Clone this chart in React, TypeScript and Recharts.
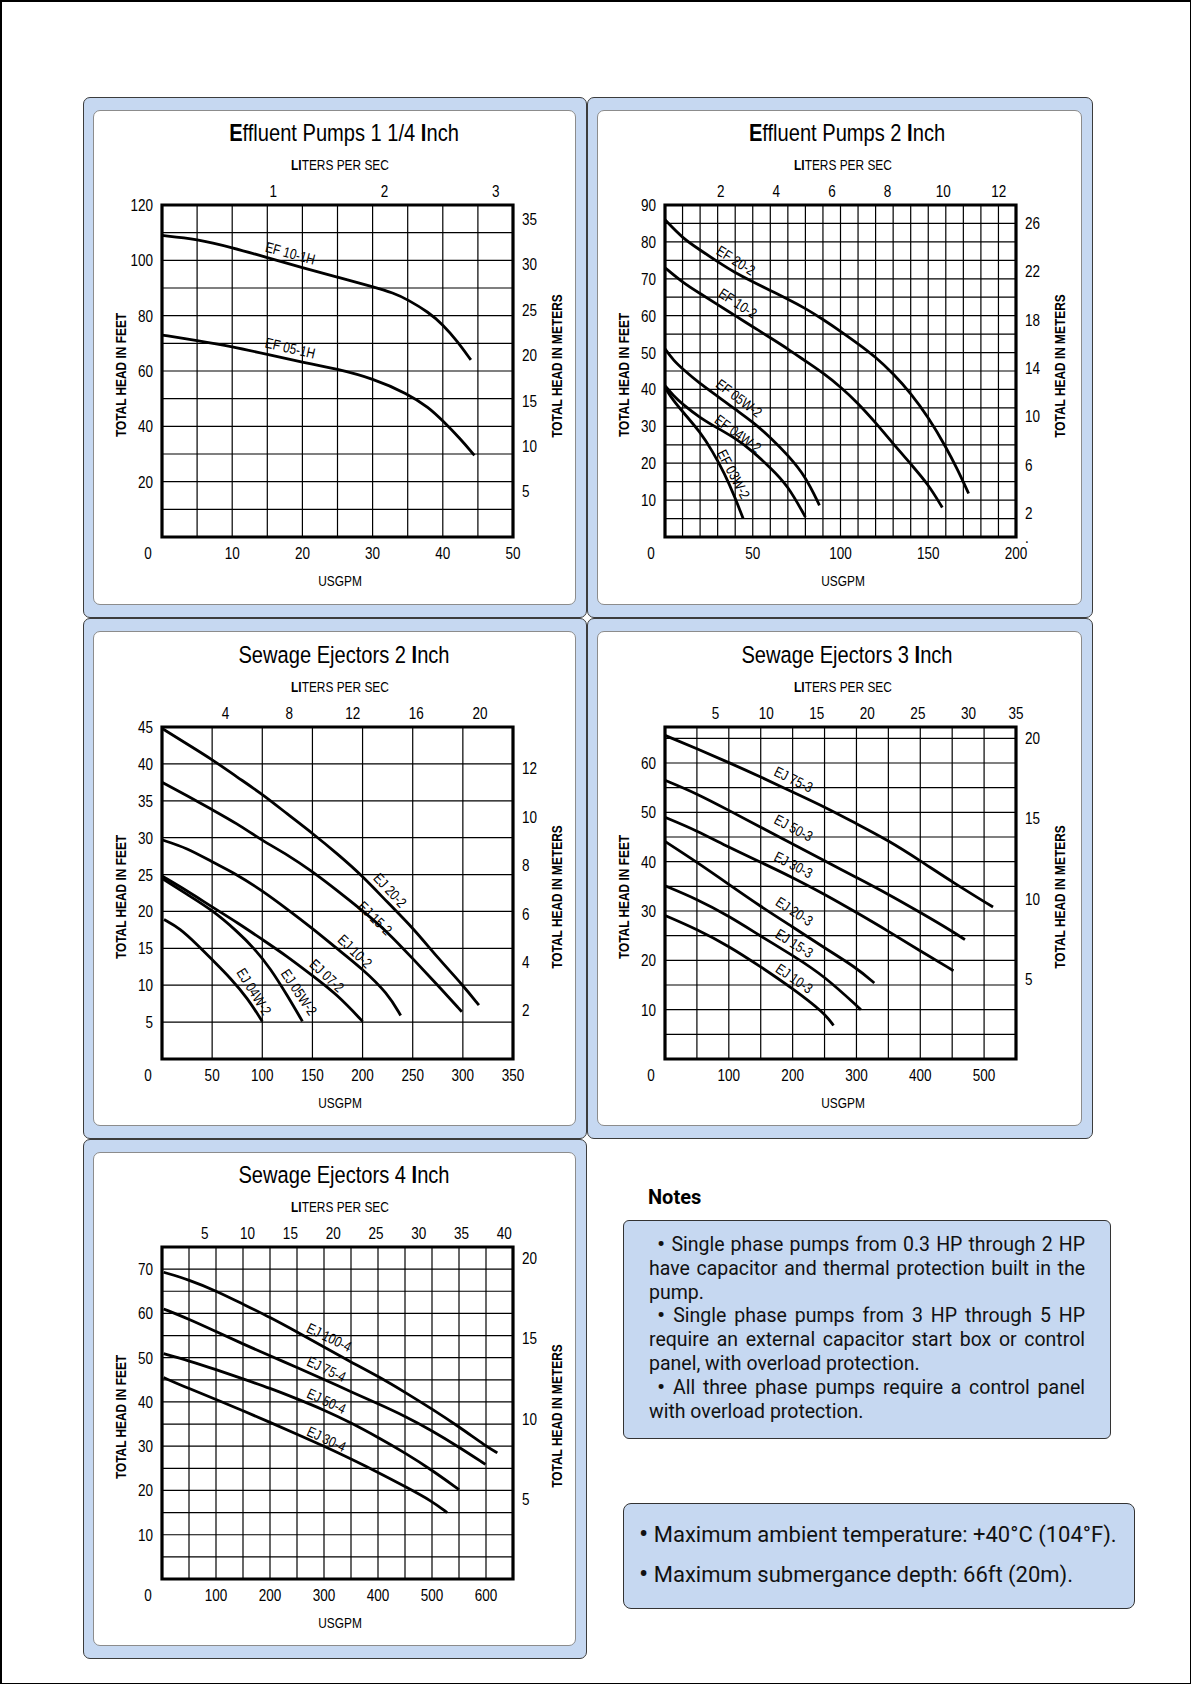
import React from 'react';
import { ComposedChart, Line, XAxis, YAxis, ReferenceLine, ReferenceArea, Scatter } from 'recharts';

const GPM_PER_LPS = 15.85;
type Pt = [number, number];
type Lb = [string, number, number, number];

// ---------- Effluent Pumps 1 1/4 Inch ----------
const EF_10_1H: Pt[] = [[0,109],[5,107.7],[10,104.6],[15,101],[20,97.3],[25,93.9],[30,90.5],[33,88.2],[35,85.8],[38,81.2],[40,76.8],[42,71],[44,64]];
const EF_05_1H: Pt[] = [[0,73],[5,71],[10,68.8],[15,66],[20,63.2],[25,60.7],[30,57.3],[35,51.8],[38,46.8],[40,42],[42.5,35.5],[44.5,29.5]];
const P1_LABELS: Lb[] = [['EF 10-1H',18.2,101.9,15],['EF 05-1H',18.2,67.6,13]];
const P1_BOTTOM = [0,10,20,30,40,50];
const P1_LEFT = [20,40,60,80,100,120];
const P1_RIGHT = [5,10,15,20,25,30,35];
const P1_TOP = [1,2,3];

// ---------- Effluent Pumps 2 Inch ----------
const EF_20_2: Pt[] = [[0,86],[10,81],[20,77.8],[30,74.6],[40,71.6],[50,69.2],[60,66.8],[70,64.5],[80,62],[90,59],[100,55.8],[110,52.4],[120,48.8],[130,44.3],[140,39],[150,32.5],[160,24.5],[167,18],[173,11.8]];
const EF_10_2: Pt[] = [[0,73],[10,69],[20,66],[30,63],[40,60],[50,57],[60,54],[70,51],[80,47.7],[90,44.5],[100,40.7],[110,36.3],[120,31],[130,25.3],[140,19.8],[150,14.3],[158,8]];
const EF_05W_2: Pt[] = [[0,51],[5,47.8],[10,45.6],[20,41.5],[30,38.2],[40,34.6],[50,31.2],[60,27],[70,22.2],[80,16.5],[88,8.6]];
const EF_04W_2: Pt[] = [[0,41],[5,38.2],[10,36],[20,32.3],[30,29.5],[40,26.8],[50,23.2],[60,18.8],[70,14],[80,5.4]];
const EF_03W_2: Pt[] = [[0,40.5],[5,36.8],[10,34],[20,28.5],[27,23.3],[34,17.2],[40,10.6],[44.5,5]];
const P2_LABELS: Lb[] = [['EF 20-2',39.8,74.5,32],['EF 10-2',40.9,62.9,33],['EF 05W-2',41.5,37.2,37],['EF 04W-2',40.9,27.6,36],['EF 03W-2',38.1,16.8,62]];
const P2_BOTTOM = [0,50,100,150,200];
const P2_LEFT = [10,20,30,40,50,60,70,80,90];
const P2_RIGHT = [0,2,6,10,14,18,22,26];
const P2_TOP = [2,4,6,8,10,12];

// ---------- Sewage Ejectors 2 Inch ----------
const EJ_20_2: Pt[] = [[0,44.8],[25,42.7],[50,40.6],[75,38.2],[100,35.9],[125,33.2],[150,30.6],[175,27.8],[200,24.8],[225,21.2],[250,17.8],[275,13.7],[300,10],[316,7.3]];
const EJ_15_2: Pt[] = [[0,37.5],[25,35.7],[50,33.8],[75,31.9],[100,29.6],[125,27.7],[150,25.4],[175,22.8],[200,20.1],[225,17.2],[250,13.6],[275,10],[299,6.4]];
const EJ_10_2: Pt[] = [[0,29.7],[25,28.6],[50,26.7],[75,25],[100,22.8],[125,20.3],[150,17.7],[175,14.9],[200,12.2],[225,8.9],[238,5.9]];
const EJ_07_2: Pt[] = [[0,24.8],[25,22.8],[50,20.6],[75,18.5],[100,16.2],[125,13.9],[150,11.3],[175,8.7],[200,5.1]];
const EJ_05W_2: Pt[] = [[0,24.5],[25,22.3],[50,20.2],[75,17.3],[92,15],[108,12.3],[125,8.6],[140,5.1]];
const EJ_04W_2: Pt[] = [[2,18.9],[18,17.7],[35,15.5],[52,13.2],[68,11],[85,8.3],[100,5.1]];
const P3_LABELS: Lb[] = [['EJ 20-2',226,22.7,47],['EJ 15-2',211,18.9,44],['EJ 10-2',191,14.4,44],['EJ 07-2',163,11.1,43],['EJ 05W-2',135,8.9,56],['EJ 04W-2',90,9.0,58]];
const P3_BOTTOM = [0,50,100,150,200,250,300,350];
const P3_LEFT = [5,10,15,20,25,30,35,40,45];
const P3_RIGHT = [2,4,6,8,10,12];
const P3_TOP = [4,8,12,16,20];

// ---------- Sewage Ejectors 3 Inch ----------
const EJ_75_3: Pt[] = [[0,65.6],[50,62.9],[100,60.1],[150,57.2],[200,54.1],[250,51.1],[300,47.7],[350,44.3],[400,40.2],[450,35.9],[514,30.8]];
const EJ_50_3: Pt[] = [[0,56.5],[50,53.8],[100,50.4],[150,47],[200,43.6],[250,40.2],[300,36.8],[350,33.4],[400,29.7],[450,25.9],[470,24.2]];
const EJ_30_3: Pt[] = [[0,49],[50,46.3],[100,42.9],[150,39.9],[200,36.8],[250,33.4],[300,29.7],[350,25.9],[400,21.9],[452,17.9]];
const EJ_20_3: Pt[] = [[0,44.1],[50,39.9],[100,35.4],[150,30.9],[200,26.8],[250,22.5],[300,18.5],[328,15.4]];
const EJ_15_3: Pt[] = [[0,35.1],[50,32.4],[100,29],[150,24.9],[200,21],[250,16.8],[307,10]];
const EJ_10_3: Pt[] = [[0,29.1],[50,26.3],[100,22.9],[150,18.7],[200,14.3],[250,9.3],[264,6.8]];
const P4_LABELS: Lb[] = [['EJ 75-3',200,56.3,26],['EJ 50-3',200,46.5,28],['EJ 30-3',200,39.0,27],['EJ 20-3',201,29.6,33],['EJ 15-3',201,23.1,32],['EJ 10-3',201,16.0,34]];
const P4_BOTTOM = [0,100,200,300,400,500];
const P4_LEFT = [10,20,30,40,50,60];
const P4_RIGHT = [5,10,15,20];
const P4_TOP = [5,10,15,20,25,30,35];

// ---------- Sewage Ejectors 4 Inch ----------
const EJ_100_4: Pt[] = [[3,69.3],[50,67.6],[100,65.1],[150,62.1],[200,59.1],[250,55.8],[300,52.4],[350,49],[400,45.8],[450,42.2],[500,38.4],[550,34.4],[600,30],[621,28.5]];
const EJ_75_4: Pt[] = [[3,61],[50,58.7],[100,55.9],[150,53.1],[200,50.4],[250,47.8],[300,45.1],[350,42.3],[400,39.6],[450,36.8],[500,33.5],[550,29.8],[599,25.9]];
const EJ_50_4: Pt[] = [[3,50.9],[50,49.3],[100,47.3],[150,45.2],[200,43.1],[250,40.7],[300,38.2],[350,35.3],[400,32],[450,28.5],[500,24.6],[550,20.2]];
const EJ_30_4: Pt[] = [[3,45.5],[50,43],[100,40.6],[150,38],[200,35.4],[250,32.7],[300,30],[350,27.1],[400,24.1],[450,20.9],[500,17.6],[528,15]];
const P5_LABELS: Lb[] = [['EJ 100-4',308,54.2,26],['EJ 75-4',303,47,25],['EJ 50-4',303,39.8,25],['EJ 30-4',303,31.2,25]];
const P5_BOTTOM = [0,100,200,300,400,500,600];
const P5_LEFT = [10,20,30,40,50,60,70];
const P5_RIGHT = [5,10,15,20];
const P5_TOP = [5,10,15,20,25,30,35,40];

const NOTES_LINES: [string, boolean, boolean][] = [
  ['Single phase pumps from 0.3 HP through 2 HP', true, true],
  ['have capacitor and thermal protection built in the', false, true],
  ['pump.', false, false],
  ['Single phase pumps from 3 HP through 5 HP', true, true],
  ['require an external capacitor start box or control', false, true],
  ['panel, with overload protection.', false, false],
  ['All three phase pumps require a control panel', true, true],
  ['with overload protection.', false, false],
];
const LIMIT_LINES = ['Maximum ambient temperature: +40°C (104°F).', 'Maximum submergance depth: 66ft (20m).'];

const FONT = "'Liberation Sans', Arial, sans-serif";
const SX = 0.82; // condensed look
const NOTE_FONT = "Roboto, 'Noto Sans', sans-serif";
const BLUE = '#c6d8f1';

const steps = (step: number, max: number) => {
  const out: number[] = [];
  for (let v = step; v < max - 1e-6; v += step) out.push(v);
  return out;
};

interface PanelCfg {
  title: React.ReactNode;
  ox: number; oy: number; ow: number; oh: number;
  px: number; py: number;
  qMax: number; hMax: number; mMax: number;
  qStep: number; hStep: number;
  series: Pt[][];
  labels: Lb[];
  bottom: number[]; left: number[]; right: number[]; top: number[];
  rightLabelDy: number;
  rightFmt?: (v: number) => string;
}

const PW = 351, PH = 332;
const AL = 70, AR = 60, AT = 50, AB = 50;

const LabelShape = (p: any) => {
  const { cx, cy, payload } = p;
  if (cx == null || cy == null) return null;
  return (
    <text x={0} y={-2} transform={`translate(${cx}, ${cy}) rotate(${payload.a}) scale(${SX},1)`} textAnchor="middle" dy="0.35em"
      fontFamily={FONT} fontSize={14.5} fill="#000">{payload.t}</text>
  );
};

function Panel({ c }: { c: PanelCfg }) {
  const topMax = c.qMax / GPM_PER_LPS;
  const tickStyle = { fontFamily: FONT, fontSize: 16.5, fill: '#000' } as const;
  const sc = (x: number, y: number) => `translate(${x}, ${y}) scale(${SX},1)`;
  const bottomTick = (p: any) => (
    <text x={0} y={0} transform={sc(p.x + (p.payload.value === 0 ? -14 : 0), p.y + 10)} dy="0.72em" textAnchor="middle" {...tickStyle}>{p.payload.value}</text>
  );
  const topTick = (p: any) => (
    <text x={0} y={0} transform={sc(p.x, p.y - 8)} textAnchor="middle" {...tickStyle}>{Math.round(p.payload.value)}</text>
  );
  const leftTick = (p: any) => (
    <text x={0} y={0} transform={sc(p.x - 9, p.y)} dy="0.36em" textAnchor="end" {...tickStyle}>{p.payload.value}</text>
  );
  const rightTick = (p: any) => (
    <text x={0} y={0} transform={sc(p.x + 9, p.y)} dy="0.36em" textAnchor="start" {...tickStyle}>{c.rightFmt ? c.rightFmt(p.payload.value) : p.payload.value}</text>
  );
  const labelData = c.labels.map(([t, q, h, a]) => ({ t, q, h, a }));
  const txt = (extra: React.CSSProperties, rot = false): React.CSSProperties => ({
    position: 'absolute', whiteSpace: 'nowrap', fontFamily: FONT, color: '#000', lineHeight: 1,
    transform: `translate(-50%,-50%)${rot ? ' rotate(-90deg)' : ''} scaleX(${SX})`, ...extra,
  });
  const rx = c.px - c.ox, ry = c.py - c.oy;
  return (
    <div style={{ position: 'absolute', left: c.ox, top: c.oy, width: c.ow, height: c.oh, boxSizing: 'border-box', background: BLUE, border: '1px solid #3c3c3c', borderRadius: 7 }}>
      <div style={{ position: 'absolute', left: 9, top: 12, right: 10, bottom: 12, background: '#fff', border: '1px solid #8c8c8c', borderRadius: 7 }} />
      <div style={{ position: 'absolute', left: rx - AL - 1, top: ry - AT - 1 }}>
        <ComposedChart width={PW + AL + AR} height={PH + AT + AB} margin={{ top: 0, right: 0, bottom: 0, left: 0 }}>
          <XAxis xAxisId="b" dataKey="q" type="number" domain={[0, c.qMax]} ticks={c.bottom} interval={0} orientation="bottom" height={AB}
            axisLine={false} tickLine={false} tickSize={0} tickMargin={0} tick={bottomTick} allowDataOverflow />
          <XAxis xAxisId="t" dataKey="q" type="number" domain={[0, topMax]} ticks={c.top.map(v => Math.min(v, topMax))} interval={0} orientation="top" height={AT}
            axisLine={false} tickLine={false} tickSize={0} tickMargin={0} tick={topTick} allowDataOverflow />
          <YAxis yAxisId="l" type="number" domain={[0, c.hMax]} ticks={c.left} interval={0} orientation="left" width={AL}
            axisLine={false} tickLine={false} tickSize={0} tickMargin={0} tick={leftTick} allowDataOverflow />
          <YAxis yAxisId="r" type="number" domain={[0, c.mMax]} ticks={c.right} interval={0} orientation="right" width={AR}
            axisLine={false} tickLine={false} tickSize={0} tickMargin={0} tick={rightTick} allowDataOverflow />
          {steps(c.qStep, c.qMax).map(v => (
            <ReferenceLine key={'v' + v} xAxisId="b" yAxisId="l" x={v} stroke="#000" strokeWidth={1.2} />
          ))}
          {steps(c.hStep, c.hMax).map(v => (
            <ReferenceLine key={'h' + v} xAxisId="b" yAxisId="l" y={v} stroke="#000" strokeWidth={1.2} />
          ))}
          <ReferenceArea xAxisId="b" yAxisId="l" x1={0} x2={c.qMax} y1={0} y2={c.hMax} fill="none" fillOpacity={0} stroke="#000" strokeWidth={3.2} />
          <Line xAxisId="t" yAxisId="r" data={[{ q: 0, m: 0 }, { q: topMax, m: 0 }]} dataKey="m" stroke="none" dot={false} activeDot={false} isAnimationActive={false} />
          {c.series.map((s, i) => (
            <Line key={i} xAxisId="b" yAxisId="l" data={s.map(([q, h]) => ({ q, h }))} dataKey="h" type="basis" dot={false} activeDot={false}
              stroke="#000" strokeWidth={2.8} isAnimationActive={false} />
          ))}
          <Scatter xAxisId="b" yAxisId="l" data={labelData} dataKey="h" shape={LabelShape} isAnimationActive={false} />
        </ComposedChart>
      </div>
      <div style={txt({ left: rx + 181, top: ry - 73, fontSize: 24.5 })}>{c.title}</div>
      <div style={txt({ left: rx + 177, top: ry - 41, fontSize: 14.5 })}><b>LI</b>TERS PER SEC</div>
      <div style={txt({ left: rx + 177, top: ry + PH + 43, fontSize: 14.5 })}>USGPM</div>
      <div style={txt({ left: rx - 42, top: ry + 169, fontSize: 14.5, fontWeight: 'bold' }, true)}>TOTAL HEAD IN FEET</div>
      <div style={txt({ left: rx + PW + 43, top: ry + c.rightLabelDy, fontSize: 14.5, fontWeight: 'bold' }, true)}>TOTAL HEAD IN METERS</div>
    </div>
  );
}

const PANELS: PanelCfg[] = [
  { title: <><b>E</b>ffluent Pumps 1 1/4 <b>I</b>nch</>, ox: 81, oy: 95, ow: 504, oh: 521, px: 160, py: 203,
    qMax: 50, hMax: 120, mMax: 36.5, qStep: 5, hStep: 10, series: [EF_10_1H, EF_05_1H], labels: P1_LABELS,
    bottom: P1_BOTTOM, left: P1_LEFT, right: P1_RIGHT, top: P1_TOP, rightLabelDy: 160 },
  { title: <><b>E</b>ffluent Pumps 2 <b>I</b>nch</>, ox: 585, oy: 95, ow: 506, oh: 521, px: 663, py: 203,
    qMax: 200, hMax: 90, mMax: 27.5, qStep: 10, hStep: 5, series: [EF_20_2, EF_10_2, EF_05W_2, EF_04W_2, EF_03W_2], labels: P2_LABELS,
    bottom: P2_BOTTOM, left: P2_LEFT, right: P2_RIGHT, top: P2_TOP, rightLabelDy: 160, rightFmt: (v) => (v === 0 ? '.' : String(v)) },
  { title: <>Sewage Ejectors 2 <b>I</b>nch</>, ox: 81, oy: 616, ow: 504, oh: 521, px: 160, py: 725,
    qMax: 350, hMax: 45, mMax: 13.7, qStep: 50, hStep: 5, series: [EJ_20_2, EJ_15_2, EJ_10_2, EJ_07_2, EJ_05W_2, EJ_04W_2], labels: P3_LABELS,
    bottom: P3_BOTTOM, left: P3_LEFT, right: P3_RIGHT, top: P3_TOP, rightLabelDy: 169 },
  { title: <>Sewage Ejectors 3 <b>I</b>nch</>, ox: 585, oy: 616, ow: 506, oh: 521, px: 663, py: 725,
    qMax: 550, hMax: 67.3, mMax: 20.7, qStep: 50, hStep: 5, series: [EJ_75_3, EJ_50_3, EJ_30_3, EJ_20_3, EJ_15_3, EJ_10_3], labels: P4_LABELS,
    bottom: P4_BOTTOM, left: P4_LEFT, right: P4_RIGHT, top: P4_TOP, rightLabelDy: 169 },
  { title: <>Sewage Ejectors 4 <b>I</b>nch</>, ox: 81, oy: 1137, ow: 504, oh: 520, px: 160, py: 1245,
    qMax: 650, hMax: 75, mMax: 20.7, qStep: 50, hStep: 5, series: [EJ_100_4, EJ_75_4, EJ_50_4, EJ_30_4], labels: P5_LABELS,
    bottom: P5_BOTTOM, left: P5_LEFT, right: P5_RIGHT, top: P5_TOP, rightLabelDy: 168 },
];

const Bullet = () => <span style={{ fontSize: '1.25em', lineHeight: 0, verticalAlign: '-0.04em' }}>•</span>;

export default function App() {
  return (
    <div style={{ position: 'absolute', left: 0, top: 0, width: 1191, height: 1684, boxSizing: 'border-box', borderTop: '2px solid #000', borderLeft: '2px solid #000', borderRight: '1.5px solid #000', borderBottom: '1.5px solid #000', background: '#fff', overflow: 'hidden' }}>
      {PANELS.map((c, i) => <Panel key={i} c={c} />)}
      <div style={{ position: 'absolute', left: 646, top: 1183, fontFamily: NOTE_FONT, fontWeight: 700, fontSize: 20, lineHeight: '24px', color: '#000' }}>Notes</div>
      <div style={{ position: 'absolute', left: 621, top: 1218, width: 488, height: 219, boxSizing: 'border-box', background: BLUE, border: '1px solid #333', borderRadius: 6 }} />
      {NOTES_LINES.map(([t, bullet, just], i) => (
        <div key={i} style={{ position: 'absolute', left: 647, top: 1231 + i * 23.8, width: 436, boxSizing: 'border-box', paddingLeft: bullet ? 8 : 0,
          fontFamily: NOTE_FONT, fontSize: 19.5, lineHeight: '24px', color: '#111', textAlign: just ? 'justify' : 'left', textAlignLast: just ? 'justify' : 'left' as any }}>
          {bullet ? <><Bullet /> </> : null}{t}
        </div>
      ))}
      <div style={{ position: 'absolute', left: 621, top: 1501, width: 512, height: 106, boxSizing: 'border-box', background: BLUE, border: '1px solid #333', borderRadius: 8 }} />
      {LIMIT_LINES.map((t, i) => (
        <div key={i} style={{ position: 'absolute', left: 637, top: 1518 + i * 40, whiteSpace: 'nowrap', fontFamily: NOTE_FONT, fontSize: 22, lineHeight: '30px', color: '#111' }}>
          <Bullet /> {t}
        </div>
      ))}
    </div>
  );
}
